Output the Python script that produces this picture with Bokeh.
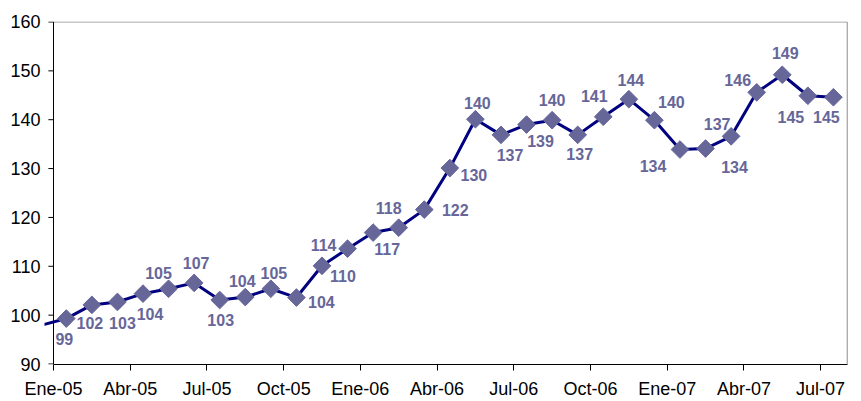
import numpy as np
from bokeh.plotting import figure
from bokeh.models import ColumnDataSource, Range1d, FixedTicker
from bokeh.embed import file_html
from bokeh.resources import INLINE
from bokeh.core.properties import value

# ---------------- data ----------------
tick_labels = ["Ene-05", "Abr-05", "Jul-05", "Oct-05", "Ene-06", "Abr-06",
               "Jul-06", "Oct-06", "Ene-07", "Abr-07", "Jul-07"]
y_ticks = [90, 100, 110, 120, 130, 140, 150, 160]

values = [99.3, 102.1, 102.7, 104.4, 105.4, 106.6, 103.1, 103.7, 105.4, 103.6,
          110.1, 113.6, 116.9, 117.9, 121.6, 130.1, 140.1, 136.9, 139.0, 139.9,
          136.9, 140.6, 144.2, 139.9, 133.9, 134.1, 136.6, 145.6, 149.2, 144.9,
          144.6]
prev_value = 97.9  # month before Ene-05, line enters from the left

# ---------------- label placement (style, screen px) ----------------
label_dx = [-2, -2, 5, 7, -10, 2, 1, -3, 3, 25, 21, -24, 14, -10, 31, 24,
            2, 9, 14, 0, 2, -9, 2, 17, -27, 29, -14, -19, 3, -17, -7]
label_dy = [20, 18, 21, 20, -16, -20, 20, -16, -16, 4, 10, -4, 16, -20, 0, 7,
            -16, 20, 16, -20, 19, -21, -19, -18, 16, 18, -12, -12, -22, 21, 20]

n = len(values)
xs = [i + 0.5 for i in range(n)]
labels = [str(int(v + 0.5)) for v in values]

src = ColumnDataSource(dict(x=xs, y=values, label=labels, dx=label_dx, dy=label_dy))

FONT = "Liberation Sans"
X_END = 31.04

p = figure(width=861, height=401,
           x_range=Range1d(-0.352, 31.09), y_range=Range1d(89.9, 160.1),
           output_backend="svg", toolbar_location=None,
           min_border_left=44, min_border_right=13,
           min_border_top=21, min_border_bottom=36)
p.xgrid.visible = False
p.ygrid.visible = False
p.outline_line_color = None
p.background_fill_color = "white"
p.border_fill_color = "white"

# x axis
p.xaxis.ticker = FixedTicker(ticks=[3 * i for i in range(len(tick_labels))])
p.xaxis.major_label_overrides = {3 * i: t for i, t in enumerate(tick_labels)}
p.xaxis.bounds = (0, X_END)
p.xaxis.axis_line_color = "black"
p.xaxis.axis_line_width = 1
p.xaxis.major_tick_line_color = "black"
p.xaxis.major_tick_out = 6
p.xaxis.major_tick_in = 0
p.xaxis.minor_tick_line_color = None
p.xaxis.major_label_text_font = FONT
p.xaxis.major_label_text_font_size = "18px"
p.xaxis.major_label_text_color = "black"
p.xaxis.major_label_text_baseline = "hanging"
p.xaxis.major_label_standoff = 8

# y axis (labels from Bokeh, line & ticks drawn at x=0)
p.yaxis.ticker = FixedTicker(ticks=y_ticks)
p.yaxis.axis_line_color = None
p.yaxis.major_tick_line_color = None
p.yaxis.major_tick_out = 0
p.yaxis.major_tick_in = 0
p.yaxis.minor_tick_line_color = None
p.yaxis.major_label_text_font = FONT
p.yaxis.major_label_text_font_size = "18px"
p.yaxis.major_label_text_color = "black"
p.yaxis.major_label_standoff = 4

# plot area border (grey) top & right
p.segment(x0=[0, X_END], y0=[y_ticks[-1], y_ticks[0]],
          x1=[X_END, X_END], y1=[y_ticks[-1], y_ticks[-1]],
          line_color="#8c8c8c", line_width=1)

# series
p.line([-0.5] + xs, [prev_value] + values, line_color="#000080", line_width=3)

# y axis line and ticks
p.segment(x0=0, y0=y_ticks[0], x1=0, y1=y_ticks[-1], line_color="black", line_width=1)
p.segment(x0=[-0.2] * len(y_ticks), y0=y_ticks, x1=[0] * len(y_ticks), y1=y_ticks,
          line_color="black", line_width=1)

p.scatter("x", "y", source=src, marker="square", size=12.5, angle=np.pi / 4,
          fill_color="#666699", line_color="#666699")

p.text("x", "y", text="label", x_offset="dx", y_offset="dy", source=src,
       text_font=value(FONT), text_font_style="bold", text_font_size="16px",
       text_color="#666699", text_align="center", text_baseline="middle")

open("out.html", "w").write(file_html(p, INLINE))
